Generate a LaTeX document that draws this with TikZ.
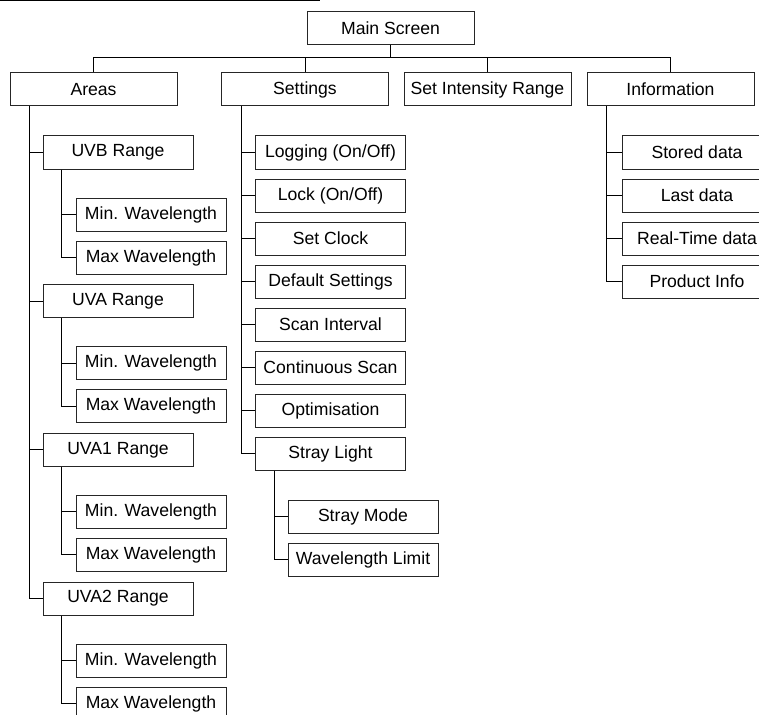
\documentclass[tikz,border=0pt]{standalone}
\usepackage{fontspec}
\setmainfont{Liberation Sans}
\usetikzlibrary{calc}

\begin{document}
\begin{tikzpicture}[x=1pt, y=-1pt, line width=1pt,
    box/.style={draw=black!85, minimum width=167pt, minimum height=33pt,
      inner sep=0pt, font=\fontsize{17.6}{20}\selectfont},
    subbox/.style={box, minimum width=150pt}]
  \def\P{43}     % pitch of stacked boxes
  \def\G{148.7}  % pitch of range groups
  \def\S{20}     % spine offset from box left

  \clip (0,0) rectangle (759,714);

  % Top rule
  \draw (0,0.5) -- (320,0.5);

  % Root and first level
  \node[box] (main) at (390.5,28) {Main Screen};
  \node[box] (areas) at (93.5,89.5) {Areas};
  \node[box] (settings) at (305,89.5) {Settings};
  \node[box] (intensity) at (487.5,89.5) {Set Intensity Range};
  \node[box] (info) at (670.5,89.5) {Information};
  \coordinate (bus) at (390.5,58);
  \foreach \n in {areas,settings,intensity,info}
    \draw (main.south) -- (bus) -| (\n.north);

  % Areas
  \foreach \n/\lab [count=\i from 0] in {uvb/UVB,uva/UVA,uvaone/UVA1,uvatwo/UVA2} {
    \node[subbox] (\n) at (118,152.5+\i*\G) {\lab\ Range};
    \node[subbox] (min\n) at (151,214.5+\i*\G) {Min. Wavelength};
    \node[subbox] (max\n) at (151,257.5+\i*\G) {Max Wavelength};
    \draw ($(areas.south west)+(\S,0)$) |- (\n.west);
    \draw ($(\n.south west)+(19,0)$) |- (min\n.west);
    \draw ($(\n.south west)+(19,0)$) |- (max\n.west);
  }

  % Settings
  \foreach \lab [count=\i from 0] in {{Logging (On/Off)},{Lock (On/Off)},{Set Clock},
      {Default Settings},{Scan Interval},{Continuous Scan},{Optimisation},{Stray Light}} {
    \node[subbox] (set\i) at (330.5,152.5+\i*\P) {\lab};
    \draw ($(settings.south west)+(\S,0)$) |- (set\i.west);
  }

  % Stray light
  \node[subbox] (straymode) at (363,516.5) {Stray Mode};
  \node[subbox] (straylimit) at (363,559.5) {Wavelength Limit};
  \draw ($(set7.south west)+(19,0)$) |- (straymode.west);
  \draw ($(set7.south west)+(19,0)$) |- (straylimit.west);

  % Information
  \foreach \lab [count=\i from 0] in {{Stored data},{Last data},{Real-Time data},{Product Info}} {
    \node[subbox] (inf\i) at (697,152.5+\i*\P) {\lab};
    \draw ($(info.south west)+(\S,0)$) |- (inf\i.west);
  }
\end{tikzpicture}
\end{document}
